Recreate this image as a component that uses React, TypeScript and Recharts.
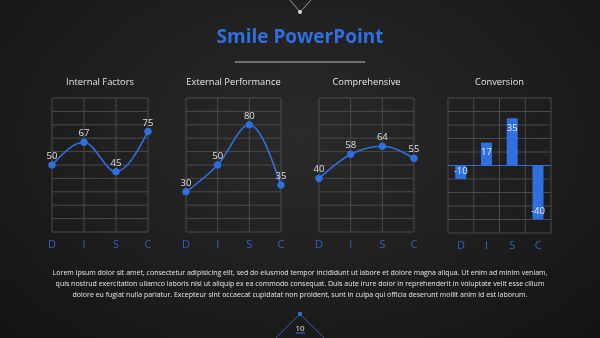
import { LineChart, Line, BarChart, Bar, XAxis, YAxis, CartesianGrid, LabelList, ReferenceLine } from "recharts";

const categories = ["D", "I", "S", "C"];
const internalValues = [50, 67, 45, 75];
const externalValues = [30, 50, 80, 35];
const comprehensiveValues = [40, 58, 64, 55];
const conversionValues = [-10, 17, 35, -40];
const lineTicks = [0, 10, 20, 30, 40, 50, 60, 70, 80, 90, 100];
const barTicks = [-50, -40, -30, -20, -10, 0, 10, 20, 30, 40, 50];

const BLUE = "#2f6fe0";
const GRID = "#4a4a4a";
const FONT = "'Open Sans', 'Noto Sans', sans-serif";

const toRows = (values: number[]) => categories.map((cat, i) => ({ cat, value: values[i] }));

// horizontal grid lines at every tick value, placed inside the plot area
const rowLines = (ticks: number[]) => ({ offset }: any) => {
  const min = ticks[0];
  const max = ticks[ticks.length - 1];
  return ticks.map((t) => offset.top + offset.height * (1 - (t - min) / (max - min)));
};

function Title({ text, center }: { text: string; center: number }) {
  return (
    <div
      style={{
        position: "absolute",
        top: 75,
        left: center - 80,
        width: 160,
        textAlign: "center",
        color: "#e6e6e6",
        fontSize: 9.3,
        fontFamily: FONT,
      }}
    >
      {text}
    </div>
  );
}

function LinePanel({ title, values, left, width }: { title: string; values: number[]; left: number; width: number }) {
  const side = 12;
  return (
    <>
      <Title text={title} center={left + width / 2} />
      <div style={{ position: "absolute", left: left - side, top: 88 }}>
        <LineChart width={width + side * 2} height={165} data={toRows(values)} margin={{ top: 10, right: side, left: side, bottom: 0 }}>
          <CartesianGrid stroke={GRID} horizontalCoordinatesGenerator={rowLines(lineTicks)} />
          <XAxis
            dataKey="cat"
            axisLine={false}
            tickLine={false}
            interval={0}
            height={21}
            tick={{ fill: "#2e63c4", fontSize: 11, fontFamily: FONT }}
          />
          <YAxis hide type="number" domain={[0, 100]} ticks={lineTicks} />
          <Line
            type="monotone"
            dataKey="value"
            stroke={BLUE}
            strokeWidth={1.6}
            dot={{ r: 3.3, fill: BLUE, stroke: BLUE, strokeWidth: 1 }}
            isAnimationActive={false}
          >
            <LabelList dataKey="value" position="top" offset={6} fill="#e0e0e0" fontSize={9.5} fontFamily={FONT} />
          </Line>
        </LineChart>
      </div>
    </>
  );
}

function BarLabel(props: any) {
  const { x, y, width, height, value } = props;
  const top = Math.min(y, y + height);
  const bottom = Math.max(y, y + height);
  const ty = value >= 0 ? top + 10 : bottom - 8;
  return (
    <text x={x + width / 2} y={ty} textAnchor="middle" dominantBaseline="middle" fill="#e8eefc" fontSize={9.5} fontFamily={FONT}>
      {value}
    </text>
  );
}

function BarPanel({ title, values, left, width }: { title: string; values: number[]; left: number; width: number }) {
  const side = 8;
  return (
    <>
      <Title text={title} center={left + width / 2} />
      <div style={{ position: "absolute", left: left - side, top: 88 }}>
        <BarChart width={width + side * 2} height={166} data={toRows(values)} margin={{ top: 10, right: side, left: side, bottom: 0 }} barCategoryGap="28%">
          <CartesianGrid
            stroke={GRID}
            horizontalCoordinatesGenerator={rowLines(barTicks)}
            verticalCoordinatesGenerator={({ offset }: any) =>
              [0, 1, 2, 3, 4].map((i) => offset.left + (offset.width * i) / 4)
            }
          />
          <XAxis
            dataKey="cat"
            axisLine={false}
            tickLine={false}
            interval={0}
            height={21}
            tick={{ fill: "#2e63c4", fontSize: 11, fontFamily: FONT }}
          />
          <YAxis hide type="number" domain={[-50, 50]} ticks={barTicks} />
          <ReferenceLine y={0} stroke={BLUE} strokeWidth={1.2} />
          <Bar dataKey="value" fill={BLUE} isAnimationActive={false}>
            <LabelList dataKey="value" content={BarLabel} />
          </Bar>
        </BarChart>
      </div>
    </>
  );
}

export default function App() {
  return (
    <div
      style={{
        position: "fixed",
        left: 0,
        top: 0,
        width: 600,
        height: 338,
        overflow: "hidden",
        background: "radial-gradient(ellipse at 50% 40%, #2a2a2a 0%, #1e1e1e 55%, #131313 100%)",
        fontFamily: FONT,
      }}
    >
      <svg width={600} height={338} style={{ position: "absolute", left: 0, top: 0 }}>
        <polyline points="290,0 300,12 311,0" fill="none" stroke="#9a9a9a" strokeWidth={1} />
        <circle cx={300} cy={12} r={2} fill="#d8d8d8" />
        <line x1={235} y1={62} x2={365} y2={62} stroke="#8a8a8a" strokeWidth={1.5} />
        <polyline points="276,338 300,314 324,338" fill="none" stroke="#2f5fb8" strokeWidth={1} />
        <circle cx={300} cy={314} r={2.2} fill={BLUE} />
        <line x1={296} y1={333} x2={305} y2={333} stroke={BLUE} strokeWidth={1} />
      </svg>
      <div
        style={{
          position: "absolute",
          top: 23,
          left: 0,
          width: 600,
          textAlign: "center",
          color: BLUE,
          fontSize: 19,
          fontWeight: 700,
          fontFamily: FONT,
        }}
      >
        Smile PowerPoint
      </div>
      <LinePanel title="Internal Factors" values={internalValues} left={52} width={96} />
      <LinePanel title="External Performance" values={externalValues} left={186} width={95} />
      <LinePanel title="Comprehensive" values={comprehensiveValues} left={319} width={95} />
      <BarPanel title="Conversion" values={conversionValues} left={448} width={103} />
      <div
        style={{
          position: "absolute",
          top: 267,
          left: 0,
          width: 600,
          textAlign: "center",
          color: "#e8e8e8",
          fontSize: 7,
          lineHeight: "11px",
          fontFamily: FONT,
        }}
      >
        Lorem ipsum dolor sit amet, consectetur adipisicing elit, sed do eiusmod tempor incididunt ut labore et dolore magna aliqua. Ut enim ad minim veniam,
        <br />
        quis nostrud exercitation ullamco laboris nisi ut aliquip ex ea commodo consequat. Duis aute irure dolor in reprehenderit in voluptate velit esse cillum
        <br />
        dolore eu fugiat nulla pariatur. Excepteur sint occaecat cupidatat non proident, sunt in culpa qui officia deserunt mollit anim id est laborum.
      </div>
      <div style={{ position: "absolute", top: 322, left: 285, width: 30, textAlign: "center", color: "#e0e0e0", fontSize: 8, fontFamily: FONT }}>
        10
      </div>
    </div>
  );
}
